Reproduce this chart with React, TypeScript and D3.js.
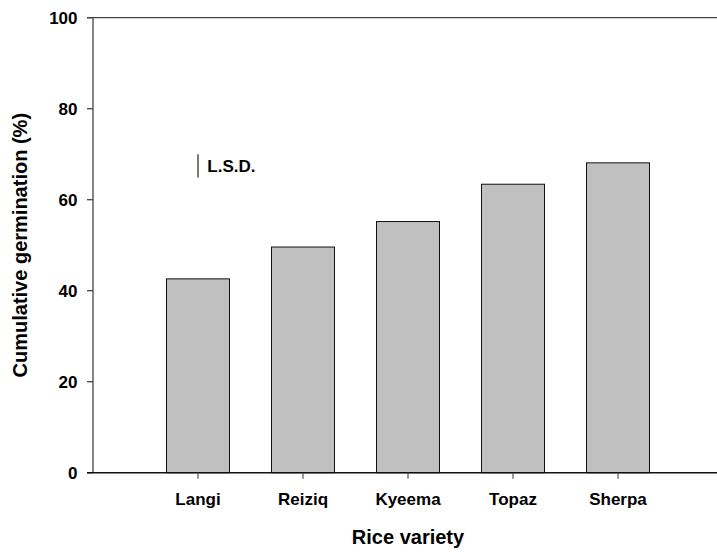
import React from "react";
import * as d3 from "d3";

const varieties: string[] = ["Langi", "Reiziq", "Kyeema", "Topaz", "Sherpa"];
const germination: number[] = [42.6, 49.6, 55.2, 63.4, 68.1];
const yTicks: number[] = [0, 20, 40, 60, 80, 100];
const lsdRange: number[] = [64.9, 70.0];
const lsdLabel = "L.S.D.";
const xTitle = "Rice variety";
const yTitle = "Cumulative germination (%)";

const W = 717;
const H = 554;
const FONT = "'Liberation Sans', Arial, Helvetica, sans-serif";

export default function App() {
  const x = d3.scalePoint<string>().domain(varieties).range([93, 723]).padding(1);
  const y = d3.scaleLinear().domain([0, 100]).range([472.7, 17.7]);
  const step = x.step();
  const barW = step * 0.6;
  const x0 = 93;
  const xEnd = 723;

  return (
    <svg
      width={W}
      height={H}
      style={{ position: "absolute", left: 0, top: 0, background: "#fff" }}
      fontFamily={FONT}
      fontWeight="bold"
    >
      {/* bars */}
      {varieties.map((v, i) => (
        <rect
          key={v}
          x={(x(v) as number) - barW / 2}
          y={y(germination[i])}
          width={barW}
          height={y(0) - y(germination[i])}
          fill="#c0c0c0"
          stroke="#111"
          strokeWidth={1}
        />
      ))}

      {/* top frame line */}
      <line x1={87} x2={xEnd} y1={y(100)} y2={y(100)} stroke="#444" strokeWidth={1.3} />

      {/* y axis */}
      <line x1={x0} x2={x0} y1={y(100)} y2={y(0)} stroke="#444" strokeWidth={1.3} />
      {yTicks.map((t) => (
        <g key={t}>
          <line x1={87} x2={x0} y1={y(t)} y2={y(t)} stroke="#444" strokeWidth={1.3} />
          <text x={77.5} y={y(t)} dy="0.36em" textAnchor="end" fontSize={17} fill="#000">
            {t}
          </text>
        </g>
      ))}

      {/* x axis */}
      <line x1={87} x2={xEnd} y1={y(0)} y2={y(0)} stroke="#111" strokeWidth={1.6} />
      {varieties.map((v) => (
        <g key={v}>
          <line x1={x(v)} x2={x(v)} y1={y(0)} y2={y(0) + 6} stroke="#555" strokeWidth={1.2} />
          <text x={x(v)} y={505} textAnchor="middle" fontSize={17} fill="#000">
            {v}
          </text>
        </g>
      ))}

      {/* L.S.D. bar */}
      <line
        x1={x(varieties[0])}
        x2={x(varieties[0])}
        y1={y(lsdRange[0])}
        y2={y(lsdRange[1])}
        stroke="#333"
        strokeWidth={1.3}
      />
      <text x={207.3} y={171.7} fontSize={17} fill="#000">
        {lsdLabel}
      </text>

      {/* axis titles */}
      <text x={(x0 + xEnd) / 2} y={544.3} textAnchor="middle" fontSize={20} fill="#000">
        {xTitle}
      </text>
      <text
        transform={`translate(27, ${(y(0) + y(100)) / 2}) rotate(-90)`}
        textAnchor="middle"
        fontSize={20}
        fill="#000"
      >
        {yTitle}
      </text>
    </svg>
  );
}
